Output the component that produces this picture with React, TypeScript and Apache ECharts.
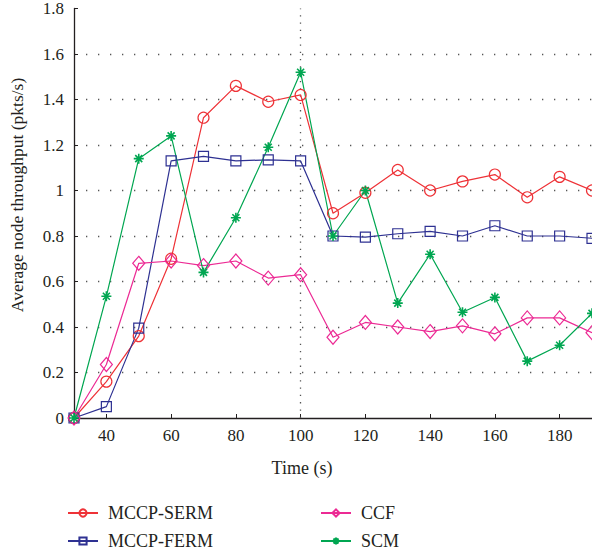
import React, { useEffect, useRef } from "react";
import * as echarts from "echarts";

const times = [30, 40, 50, 60, 70, 80, 90, 100, 110, 120, 130, 140, 150, 160, 170, 180, 190];
const serm = [0, 0.16, 0.36, 0.7, 1.32, 1.46, 1.39, 1.42, 0.9, 0.99, 1.09, 1.0, 1.04, 1.07, 0.97, 1.06, 1.0];
const ferm = [0, 0.05, 0.395, 1.13, 1.15, 1.13, 1.135, 1.13, 0.8, 0.795, 0.81, 0.82, 0.8, 0.845, 0.8, 0.8, 0.79];
const ccf = [0, 0.235, 0.68, 0.69, 0.67, 0.69, 0.615, 0.63, 0.355, 0.42, 0.4, 0.38, 0.405, 0.37, 0.44, 0.44, 0.375];
const scm = [0, 0.535, 1.14, 1.24, 0.64, 0.88, 1.19, 1.52, 0.8, 1.0, 0.505, 0.72, 0.465, 0.53, 0.25, 0.32, 0.46];
const xTickValues = [40, 60, 80, 100, 120, 140, 160, 180];
const seriesNames = ["MCCP-SERM", "MCCP-FERM", "CCF", "SCM"];

const FONT = "'Liberation Serif', 'DejaVu Serif', serif";
const TEXT = "#231f20";
const RED = "#ee3237";
const BLUE = "#2e3192";
const PINK = "#ec2a94";
const GREEN = "#00a651";
const STAR = "path://M5,0 L5,10 M0,5 L10,5 M1.5,1.5 L8.5,8.5 M1.5,8.5 L8.5,1.5";

function pairs(vals: number[]) {
  return times.map((t, i) => [t, vals[i]]);
}

export default function App() {
  const ref = useRef<HTMLDivElement>(null);
  useEffect(() => {
    if (!ref.current) return;
    const chart = echarts.init(ref.current, null, { renderer: "svg" });
    const mk = (name: string, data: number[], color: string, symbol: string, size: any, extra: any = {}) => ({
      name,
      type: "line",
      data: pairs(data),
      symbol,
      symbolSize: size,
      lineStyle: { color, width: 1.2 },
      itemStyle: { color: "rgba(255,255,255,0)", borderColor: color, borderWidth: 1.2 },
      emphasis: { disabled: true },
      z: 3,
      ...extra,
    });
    const legendBase = {
      orient: "vertical",
      top: 503,
      padding: 0,
      height: 60,
      itemWidth: 30,
      itemHeight: 9,
      itemGap: 8,
      textStyle: { color: TEXT, fontSize: 18, fontFamily: FONT, lineHeight: 20, padding: [0, 0, 0, 5] },
    };
    chart.setOption({
      animation: false,
      textStyle: { fontFamily: FONT },
      grid: { left: 74, top: 8, right: -2, bottom: 138, containLabel: false },
      xAxis: {
        type: "value",
        min: 30,
        max: 190,
        interval: 10,
        axisLine: { show: true, lineStyle: { color: TEXT, width: 1.3 } },
        axisTick: { show: true, inside: true, length: 4, customValues: xTickValues, lineStyle: { color: TEXT } },
        axisLabel: { customValues: xTickValues, color: TEXT, fontSize: 17, fontFamily: FONT, margin: 9 },
        splitLine: { show: false },
      },
      yAxis: {
        type: "value",
        min: 0,
        max: 1.8,
        interval: 0.2,
        axisLine: { show: true, lineStyle: { color: TEXT, width: 1.3 } },
        axisTick: { show: true, inside: true, length: 4, lineStyle: { color: TEXT } },
        axisLabel: { color: TEXT, fontSize: 17, fontFamily: FONT, margin: 10 },
        splitLine: { show: true, showMaxLine: false, showMinLine: false, lineStyle: { color: "#555", width: 1.3, type: [1.3, 10.7] } },
      },
      legend: [
        { ...legendBase, data: seriesNames.slice(0, 2), left: 67 },
        { ...legendBase, data: seriesNames.slice(2, 4), left: 320 },
      ],
      graphic: [
        {
          type: "text",
          x: 302,
          y: 468,
          style: { text: "Time (s)", fill: TEXT, font: `18px ${FONT}`, align: "center", verticalAlign: "middle" },
        },
        {
          type: "text",
          x: 16.5,
          y: 195,
          rotation: Math.PI / 2,
          style: { text: "Average node throughput (pkts/s)", fill: TEXT, font: `17.5px ${FONT}`, align: "center", verticalAlign: "middle" },
        },
      ],
      series: [
        mk(seriesNames[0], serm, RED, "circle", 11, {
          markLine: {
            silent: true,
            symbol: "none",
            label: { show: false },
            lineStyle: { color: "#555", width: 1.3, type: [1.3, 6] },
            data: [{ xAxis: 100 }],
            z: 1,
          },
        }),
        mk(seriesNames[1], ferm, BLUE, "rect", 10),
        mk(seriesNames[2], ccf, PINK, "diamond", [12, 14]),
        mk(seriesNames[3], scm, GREEN, STAR, 10, { itemStyle: { color: GREEN, borderColor: GREEN, borderWidth: 1.6 } }),
      ],
    });
    return () => chart.dispose();
  }, []);
  return <div ref={ref} style={{ width: 592, height: 556, position: "absolute", left: 0, top: 0 }} />;
}
